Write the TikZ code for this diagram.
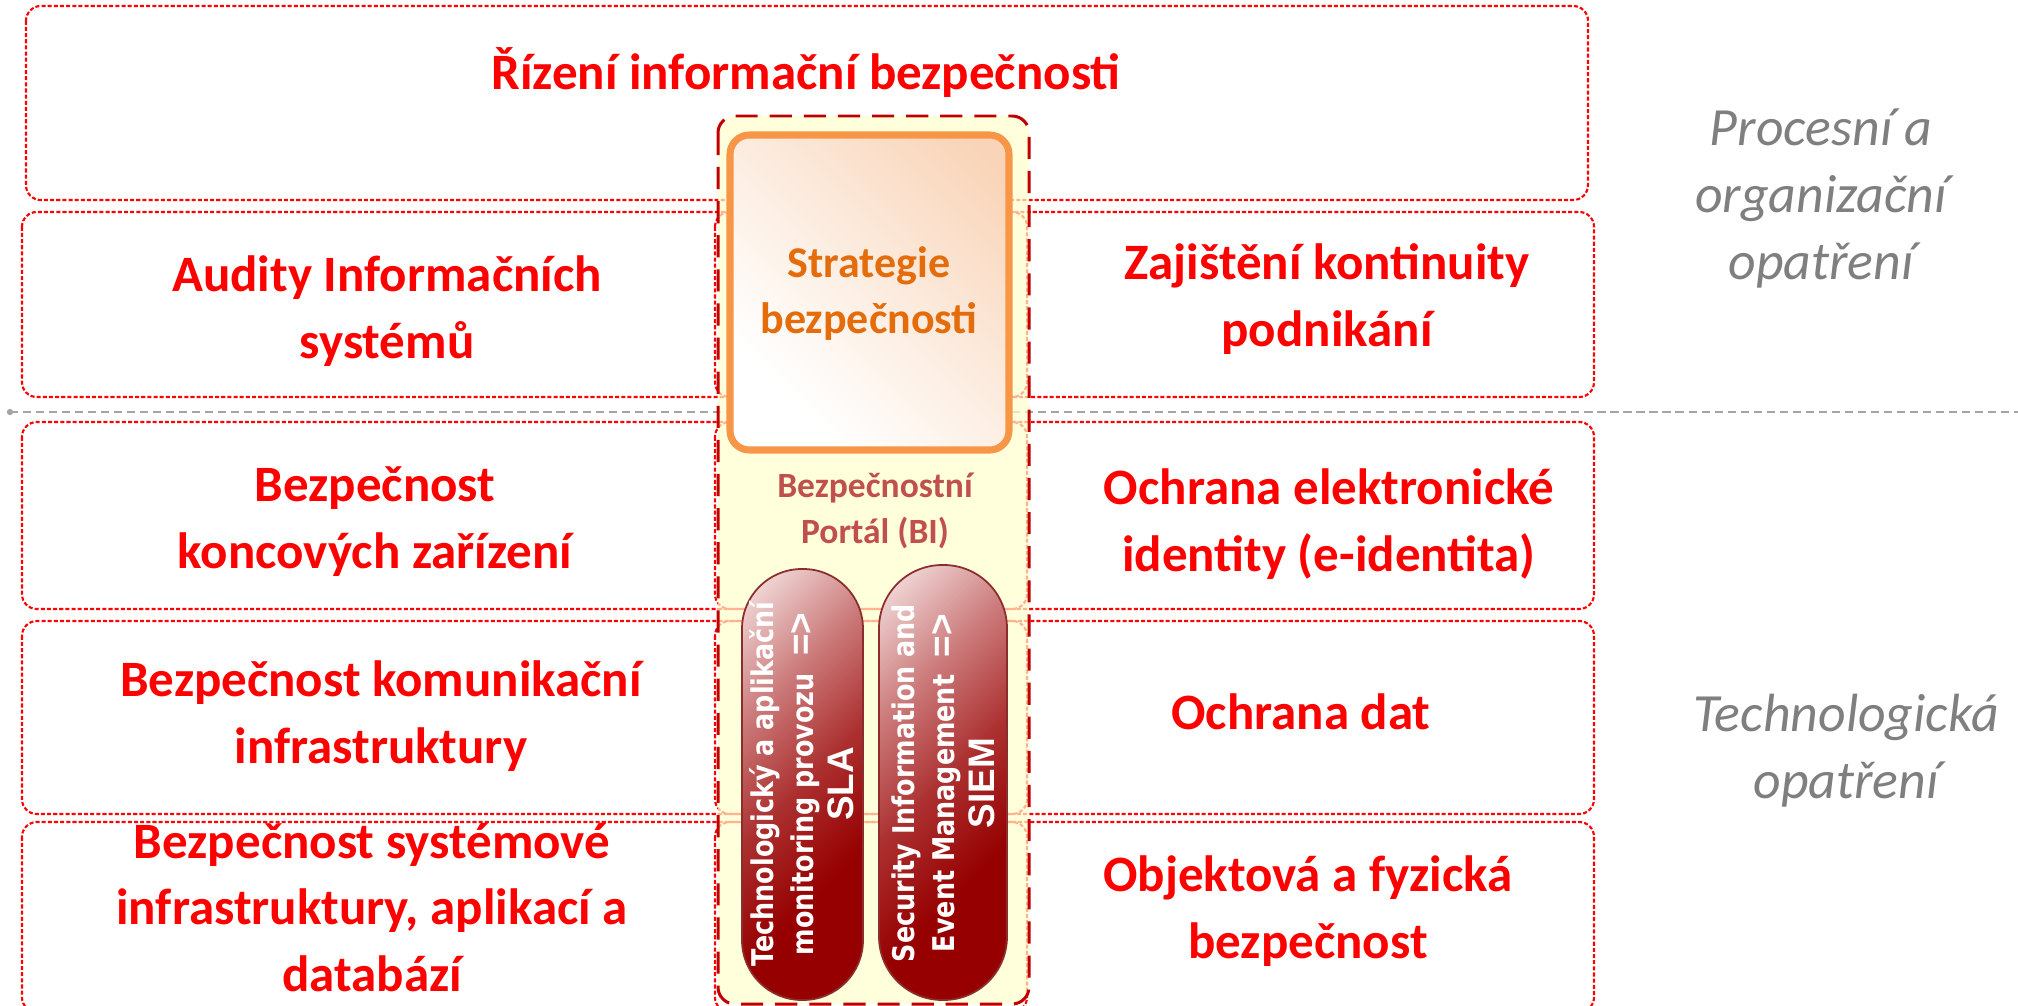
\documentclass[tikz,border=0pt]{standalone}
\usepackage{fontspec}
\setmainfont{Carlito}
\newfontfamily\pillfont[FakeStretch=0.85]{DejaVu Sans}
\newfontfamily\tagfont{Liberation Sans}
\usetikzlibrary{calc}

\definecolor{boxred}{RGB}{255,0,0}
\definecolor{colred}{RGB}{192,0,0}
\definecolor{colfill}{RGB}{255,255,205}
\definecolor{stratline}{RGB}{247,150,70}
\definecolor{strattext}{RGB}{228,108,10}
\definecolor{stratpale}{RGB}{252,234,220}
\definecolor{stratpeach}{RGB}{249,212,184}
\definecolor{portaltext}{RGB}{192,80,77}
\definecolor{pillhi}{RGB}{246,228,228}
\definecolor{pillpink}{RGB}{205,125,125}
\definecolor{pillmid}{RGB}{172,48,48}
\definecolor{pilldark}{RGB}{150,0,0}
\definecolor{pillline}{RGB}{140,45,45}
\definecolor{sidegray}{RGB}{127,127,127}
\definecolor{midgray}{RGB}{165,165,165}

\pgfdeclarehorizontalshading{pillshade}{100bp}{color(0bp)=(pillhi); color(16bp)=(pillhi);
  color(34bp)=(pillpink); color(50bp)=(pillmid); color(66bp)=(pilldark); color(100bp)=(pilldark)}
\pgfdeclarehorizontalshading{stratshade}{100bp}{color(0bp)=(white); color(28bp)=(white);
  color(55bp)=(stratpale); color(80bp)=(stratpeach); color(100bp)=(stratpeach)}

\tikzset{
  rowbox/.style={draw=boxred, line width=0.6pt, dash pattern=on 1.15pt off 0.6pt, rounded corners=4.2pt},
  rowtxt/.style={text=boxred, font=\bfseries\fontsize{14.5}{18.8}\selectfont, align=center, anchor=base, inner sep=0pt},
  sidetxt/.style={text=sidegray, font=\itshape\fontsize{15.3}{19}\selectfont, align=center, anchor=base, inner sep=0pt},
  pill/.style={draw=pillline, line width=0.5pt, shading=pillshade, shading angle=-45},
  pilltxt/.style={text=white, font=\pillfont\bfseries\fontsize{8.5}{11.4}\selectfont, align=center, rotate=90, inner sep=0pt}
}

\begin{document}
\begin{tikzpicture}[x=0.01cm, y=-0.01cm]
  \useasboundingbox (0,0) rectangle (2018,1006);

  % row frames
  \draw[rowbox] (26,6) rectangle (1588,200);
  \foreach \top/\bot in {212/397, 422/609, 621/814, 822/1012} {
    \draw[rowbox] (22,\top) rectangle (1027,\bot);
    \draw[rowbox] (715,\top) rectangle (1594,\bot);
  }

  % divider process / technology
  \coordinate (split) at (10,412);
  \fill[midgray] (split) circle (0.9pt);
  \draw[midgray, line width=0.45pt, dash pattern=on 2.3pt off 1.4pt] (split) -- ++(2008,0);

  % portal column
  \draw[colred, line width=0.85pt, dash pattern=on 6.3pt off 3.4pt, fill=colfill, fill opacity=0.7,
    rounded corners=4.8pt] (718,116) rectangle (1029,1004);
  \shadedraw[stratline, line width=2pt, rounded corners=5.5pt, shading=stratshade, shading angle=45]
    (730,135) rectangle (1009,450);
  \shadedraw[pill, rounded corners=17pt] (742,569) rectangle (863,1000);
  \shadedraw[pill, rounded corners=18pt] (879,565) rectangle (1007,1000);

  % texts (anchor = baseline of the last line)
  \node[rowtxt] (rizeni) at (806,90) {Řízení informační bezpečnosti};
  \node[rowtxt] (audity) at (387,358) {Audity Informačních\\systémů};
  \node[rowtxt] (kontinuita) at (1327,346) {Zajištění kontinuity\\podnikání};
  \node[rowtxt] (koncova) at (375,568) {Bezpečnost\\koncových zařízení};
  \node[rowtxt] (eident) at (1329,571) {Ochrana elektronické\\identity (e-identita)};
  \node[rowtxt] (komunikace) at (381,763) {Bezpečnost komunikační\\infrastruktury};
  \node[rowtxt] (data) at (1301,729) {Ochrana dat};
  \node[rowtxt] (systemy) at (372,991) {Bezpečnost systémové\\infrastruktury, aplikací a\\databází};
  \node[rowtxt] (objekt) at (1308,958) {Objektová a fyzická\\bezpečnost};

  \node[sidetxt] (procesni) at (1821,279) {Procesní a\\organizační\\opatření};
  \node[sidetxt] (techno) at (1846,798) {Technologická\\opatření};

  \node[text=strattext, font=\bfseries\fontsize{12.5}{15.9}\selectfont, align=center, anchor=base, inner sep=0pt]
    (strategie) at (869,333) {Strategie\\bezpečnosti};
  \node[text=portaltext, font=\bfseries\fontsize{10.1}{12.8}\selectfont, align=center, anchor=base, inner sep=0pt]
    (portal) at (875,543) {Bezpečnostní\\Portál (BI)};

  \node[pilltxt] (sla) at (802,784) {Technologický a aplikační\\monitoring provozu\ \ {\tagfont\fontsize{10.5}{11.4}\selectfont =>}\\{\tagfont\fontsize{10.5}{11.4}\selectfont SLA}};
  \node[pilltxt] (siem) at (943,783) {Security Information and\\Event Management\ \ {\tagfont\fontsize{10.5}{11.4}\selectfont =>}\\{\tagfont\fontsize{10.5}{11.4}\selectfont SIEM}};
\end{tikzpicture}
\end{document}
